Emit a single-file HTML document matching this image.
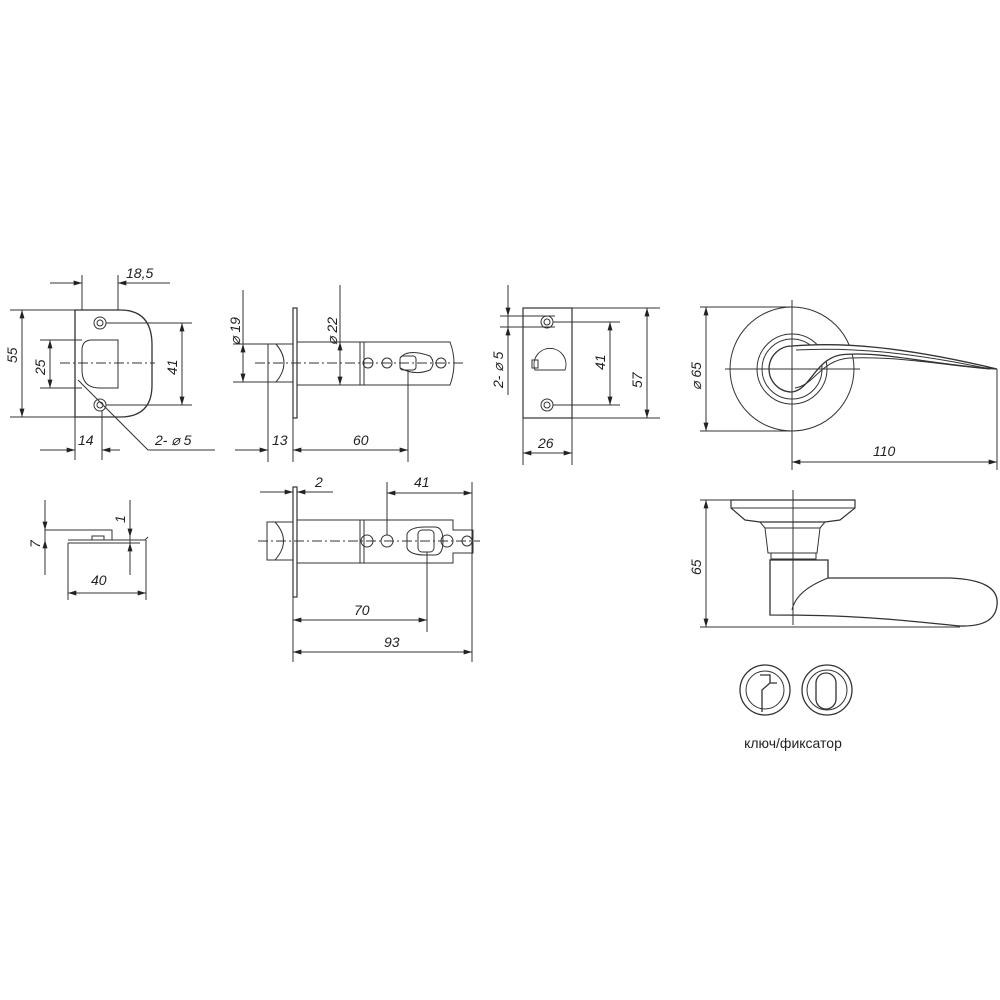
<!DOCTYPE html>
<html><head><meta charset="utf-8"><style>
html,body{margin:0;padding:0;background:#fff;}
svg{display:block;}
text{font-family:"Liberation Sans",sans-serif;font-style:italic;font-size:14px;fill:#222;}
</style></head><body>
<svg width="1000" height="1000" viewBox="0 0 1000 1000" xmlns="http://www.w3.org/2000/svg">
<defs>
<marker id="a" viewBox="0 0 10 6" refX="10" refY="3" markerWidth="12" markerHeight="5" orient="auto-start-reverse" markerUnits="userSpaceOnUse"><path d="M0,0 L10,3 L0,6 Z" fill="#222"/></marker>
</defs>
<g fill="none" stroke="#333" stroke-width="1">
<!-- Strike plate -->
<path d="M75,310 H120 Q152,310 152,345 V385 Q152,417 120,417 H75 Z" stroke-width="1.3"/>
<path d="M82,350 Q82,340 92,340 H118 V388 H100 Q82,388 82,370 Z"/>
<circle cx="100" cy="323" r="6"/><circle cx="100" cy="323" r="3"/>
<circle cx="100" cy="405" r="6"/><circle cx="100" cy="405" r="3"/>
<line x1="60" y1="363" x2="155" y2="363" stroke-dasharray="10,3,2,3"/>
<line x1="10" y1="310" x2="75" y2="310"/><line x1="10" y1="417" x2="75" y2="417"/>
<line x1="22" y1="310" x2="22" y2="417" marker-start="url(#a)" marker-end="url(#a)"/>
<line x1="40" y1="340" x2="82" y2="340"/><line x1="40" y1="388" x2="82" y2="388"/>
<line x1="50" y1="340" x2="50" y2="388" marker-start="url(#a)" marker-end="url(#a)"/>
<line x1="106" y1="323" x2="192" y2="323"/><line x1="106" y1="405" x2="192" y2="405"/>
<line x1="182" y1="323" x2="182" y2="405" marker-start="url(#a)" marker-end="url(#a)"/>
<line x1="82" y1="275" x2="82" y2="310"/><line x1="118" y1="275" x2="118" y2="310"/>
<line x1="50" y1="283" x2="82" y2="283" marker-end="url(#a)"/><line x1="170" y1="283" x2="118" y2="283" marker-end="url(#a)"/>
<line x1="75" y1="417" x2="75" y2="460"/><line x1="102" y1="411" x2="102" y2="460"/>
<line x1="40" y1="450" x2="75" y2="450" marker-end="url(#a)"/><line x1="120" y1="450" x2="102" y2="450" marker-end="url(#a)"/>
<path d="M78,380 L148,450 H215"/>
<!-- Latch top -->
<rect x="293" y="308" width="4" height="110" stroke-width="1.2"/>
<rect x="268" y="344" width="25" height="38"/>
<path d="M276,344 Q292,363 276,382"/>
<rect x="297" y="342" width="63" height="43"/>
<path d="M360,342 H450 Q458,363 450,385 H360 Z"/>
<line x1="364" y1="342" x2="364" y2="385"/>
<circle cx="368" cy="363" r="5"/><circle cx="387" cy="363" r="5"/><circle cx="441" cy="363" r="5"/>
<rect x="400" y="356" width="16" height="14" rx="3"/><path d="M400,358 Q408,348 430,356 Q436,363 430,370 Q415,376 400,368"/>
<line x1="255" y1="363" x2="465" y2="363" stroke-dasharray="10,3,2,3"/>
<line x1="233" y1="344" x2="268" y2="344"/><line x1="233" y1="382" x2="268" y2="382"/>
<line x1="243" y1="344" x2="243" y2="382" marker-start="url(#a)" marker-end="url(#a)"/>
<line x1="340" y1="285" x2="340" y2="342"/>
<line x1="340" y1="342" x2="340" y2="385" marker-start="url(#a)" marker-end="url(#a)"/>
<line x1="243" y1="290" x2="243" y2="344"/>
<line x1="268" y1="382" x2="268" y2="462"/><line x1="293" y1="418" x2="293" y2="462"/><line x1="408" y1="370" x2="408" y2="462"/>
<line x1="235" y1="450" x2="268" y2="450" marker-end="url(#a)"/><line x1="293" y1="450" x2="408" y2="450" marker-start="url(#a)" marker-end="url(#a)"/>
<!-- Strike side view -->
<path d="M68,540 H145 L148,537 M68,543 H140 M45,530 H112 V540 M92,540 V536 H104 V540 M68,543 V600 M146,540 V600"/>
<line x1="45" y1="500" x2="45" y2="575"/>
<line x1="45" y1="510" x2="45" y2="530" marker-end="url(#a)"/><line x1="45" y1="560" x2="45" y2="540" marker-end="url(#a)"/>
<line x1="130" y1="500" x2="130" y2="575"/>
<line x1="130" y1="520" x2="130" y2="537" marker-end="url(#a)"/><line x1="130" y1="560" x2="130" y2="543" marker-end="url(#a)"/>
<line x1="68" y1="593" x2="146" y2="593" marker-start="url(#a)" marker-end="url(#a)"/>
<!-- Latch bottom -->
<rect x="293" y="487" width="4" height="110" stroke-width="1.2"/>
<rect x="267" y="522" width="26" height="38"/>
<path d="M275,522 Q292,541 275,560"/>
<rect x="297" y="520" width="63" height="43"/>
<path d="M360,520 H453 V530 H473 V553 H453 V563 H360 Z"/>
<line x1="364" y1="520" x2="364" y2="563"/>
<circle cx="367" cy="541" r="6"/><circle cx="387" cy="541" r="6"/><circle cx="447" cy="541" r="6"/><circle cx="467" cy="541" r="5"/>
<path d="M407,534 Q410,527 425,527 H435 Q443,527 443,541 Q443,555 435,555 H425 Q410,555 407,548 Z"/>
<rect x="418" y="530" width="16" height="22" rx="4"/>
<line x1="258" y1="541" x2="480" y2="541" stroke-dasharray="10,3,2,3"/>
<line x1="260" y1="492" x2="293" y2="492" marker-end="url(#a)"/><line x1="333" y1="492" x2="297" y2="492" marker-end="url(#a)"/>
<line x1="387" y1="482" x2="387" y2="535"/><line x1="472" y1="482" x2="472" y2="662"/>
<line x1="387" y1="493" x2="472" y2="493" marker-start="url(#a)" marker-end="url(#a)"/>
<line x1="293" y1="597" x2="293" y2="662"/><line x1="427" y1="552" x2="427" y2="632"/>
<line x1="293" y1="620" x2="427" y2="620" marker-start="url(#a)" marker-end="url(#a)"/>
<line x1="293" y1="652" x2="472" y2="652" marker-start="url(#a)" marker-end="url(#a)"/>
<!-- Square plate -->
<rect x="523" y="308" width="49" height="110" stroke-width="1.2"/>
<circle cx="547" cy="322" r="6"/><circle cx="547" cy="322" r="3"/>
<circle cx="547" cy="405" r="6"/><circle cx="547" cy="405" r="3"/>
<path d="M535,370 A16,16 0 1 1 565,370 Z"/><path d="M532,360 H538 V368 H532 Z"/>
<line x1="553" y1="322" x2="620" y2="322"/><line x1="553" y1="405" x2="620" y2="405"/>
<line x1="610" y1="322" x2="610" y2="405" marker-start="url(#a)" marker-end="url(#a)"/>
<line x1="572" y1="308" x2="660" y2="308"/><line x1="572" y1="418" x2="660" y2="418"/>
<line x1="647" y1="308" x2="647" y2="418" marker-start="url(#a)" marker-end="url(#a)"/>
<line x1="500" y1="316" x2="555" y2="316"/><line x1="500" y1="327" x2="555" y2="327"/>
<line x1="508" y1="285" x2="508" y2="395"/>
<line x1="508" y1="295" x2="508" y2="316" marker-end="url(#a)"/><line x1="508" y1="345" x2="508" y2="327" marker-end="url(#a)"/>
<line x1="523" y1="418" x2="523" y2="465"/><line x1="572" y1="418" x2="572" y2="465"/>
<line x1="523" y1="453" x2="572" y2="453" marker-start="url(#a)" marker-end="url(#a)"/>
<!-- Rosette front -->
<circle cx="792" cy="369" r="62"/>
<circle cx="792" cy="369" r="35"/><circle cx="792" cy="369" r="30"/>
<path d="M792,346 C840,342 900,346 997,369 C930,365 880,350 840,355 C815,360 810,390 792,392 A23,23 0 0 1 792,346 Z" fill="#fff" stroke-width="1.3"/>
<path d="M796,350 C850,347 910,352 990,369 M795,388 C815,385 820,360 850,358 C900,356 950,366 990,369"/>
<line x1="792" y1="300" x2="792" y2="470"/><line x1="725" y1="369" x2="860" y2="369"/>
<line x1="700" y1="307" x2="792" y2="307"/><line x1="700" y1="431" x2="792" y2="431"/>
<line x1="706" y1="307" x2="706" y2="431" marker-start="url(#a)" marker-end="url(#a)"/>
<line x1="997" y1="369" x2="997" y2="470"/>
<line x1="792" y1="462" x2="997" y2="462" marker-start="url(#a)" marker-end="url(#a)"/>
<!-- Side view -->
<path d="M731,500 H855 V508 L840,520 L825,522 H760 L745,520 L731,508 Z" stroke-width="1.2"/>
<line x1="731" y1="508" x2="855" y2="508"/>
<path d="M760,522 L765,528 H820 L825,522 M765,528 L768,553 H817 L820,528"/>
<rect x="771" y="553" width="45" height="6"/>
<path d="M770,560 H828 V578 H950 Q1000,580 997,605 Q995,627 960,626 C900,620 860,615 770,615 Z" stroke-width="1.3"/>
<path d="M828,578 C810,585 795,595 792,610"/>
<line x1="793" y1="490" x2="793" y2="625"/>
<line x1="700" y1="500" x2="731" y2="500"/><line x1="700" y1="627" x2="960" y2="627"/>
<line x1="706" y1="500" x2="706" y2="627" marker-start="url(#a)" marker-end="url(#a)"/>
<!-- Icons -->
<circle cx="765" cy="690" r="25" stroke-width="1.3"/><circle cx="765" cy="690" r="19"/>
<path d="M760,675 H770 V683 L762,690 V712 M770,683 H777" stroke-width="1.3"/>
<circle cx="827" cy="690" r="25" stroke-width="1.3"/><circle cx="827" cy="690" r="20"/>
<rect x="816" y="673" width="20" height="36" rx="10" stroke-width="1.3"/>
</g>
<g>
<text transform="translate(17,363) rotate(-90)">55</text>
<text transform="translate(45,375) rotate(-90)">25</text>
<text transform="translate(177,375) rotate(-90)">41</text>
<text x="126" y="278">18,5</text>
<text x="78" y="445">14</text>
<text x="155" y="445">2-  ⌀ 5</text>
<text transform="translate(240,345) rotate(-90)">⌀ 19</text>
<text transform="translate(337,345) rotate(-90)">⌀ 22</text>
<text x="272" y="445">13</text>
<text x="353" y="445">60</text>
<text transform="translate(40,548) rotate(-90)">7</text>
<text transform="translate(125,523) rotate(-90)">1</text>
<text x="91" y="585">40</text>
<text x="315" y="487">2</text>
<text x="414" y="487">41</text>
<text x="354" y="615">70</text>
<text x="384" y="647">93</text>
<text transform="translate(503,388) rotate(-90)">2-  ⌀ 5</text>
<text transform="translate(605,370) rotate(-90)">41</text>
<text transform="translate(642,388) rotate(-90)">57</text>
<text x="538" y="448">26</text>
<text transform="translate(701,390) rotate(-90)">⌀ 65</text>
<text x="873" y="456">110</text>
<text transform="translate(701,575) rotate(-90)">65</text>
<text x="793" y="748" text-anchor="middle" style="font-style:normal;font-size:14px">ключ/фиксатор</text>
</g>
</svg>
</body></html>
